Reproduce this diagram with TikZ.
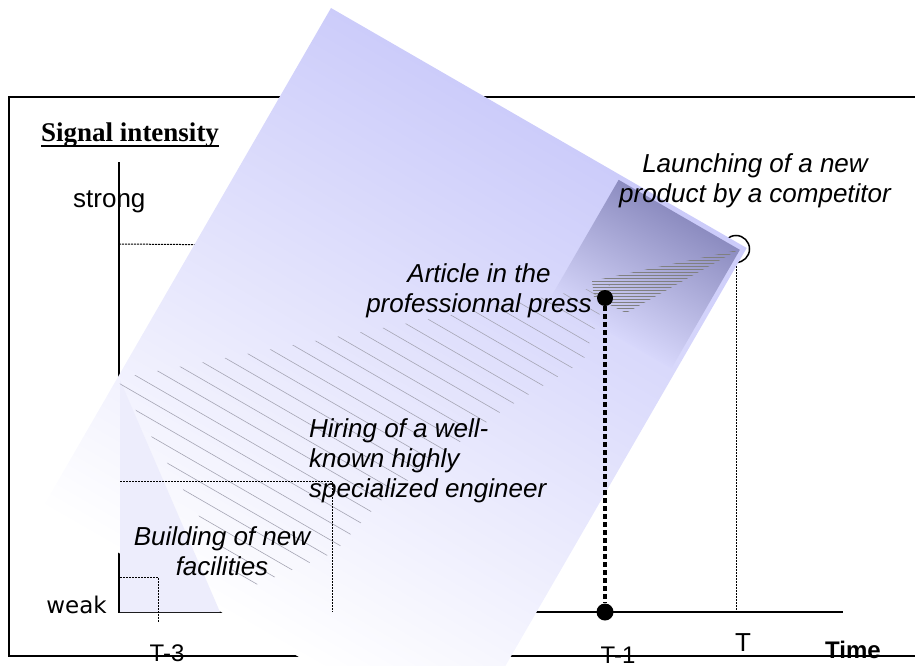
\documentclass[tikz,border=0pt]{standalone}
\usepackage{fontspec}
\setmainfont{Liberation Sans}
\newfontfamily\serifbf{Liberation Serif}
\newfontfamily\widesans{DejaVu Sans}
\usetikzlibrary{patterns}

\definecolor{lav}{RGB}{204,204,250}
\definecolor{lavstrip}{RGB}{237,237,252}
\definecolor{fold}{RGB}{140,140,192}
\definecolor{hatch}{RGB}{165,165,180}

\tikzset{
  axis/.style={line width=1.5pt},
  lvl/.style={line width=1pt, dash pattern=on 2pt off 1pt},
  lbl/.style={font=\fontsize{26}{30}\selectfont\itshape, inner sep=0pt},
  tlbl/.style={font=\fontsize{24}{28}\selectfont, inner sep=0pt, anchor=base},
  dot/.style={circle, fill=black, inner sep=0pt, minimum size=16pt},
}

\begin{document}
\begin{tikzpicture}[x=1pt, y=-1pt]
\useasboundingbox (0,0) rectangle (915,666);
\clip (0,0) rectangle (915,666);

% frame and axes
\draw[axis] (920,97) -- (9,97) -- (9,656) -- (920,656);
\draw[axis] (119,162) -- (119,612) -- (843,612);

% strong level and launching point
\coordinate (ystrong) at (119,244);
\node[circle, draw, fill=white, line width=1.5pt, minimum size=27pt, inner sep=0pt] (launch) at (736,249) {};
\coordinate (tT) at (736,612);
\draw[lvl] (ystrong) -- (launch);
\draw[lvl] (launch) -- (tT);

% the sheet lying over the chart
\begin{scope}[transform canvas={shift={(331,8)}, rotate=-30}]
  \shade[top color=lav, middle color=lav!40!white, bottom color=white] (0,0) rectangle (480,578);
  \shade[top color=fold, bottom color=lav!78!white] (335,5) rectangle (475,142);
\end{scope}
\fill[lavstrip] (120,380) -- (120,612) -- (220,612) -- cycle;
\begin{scope}[transform canvas={shift={(331,8)}, rotate=-30}]
  \clip (0,428) -- (380,100) -- (395,180) -- (350,262) -- (290,400) -- (275,470) -- (215,548) -- cycle;
  \foreach \y in {101,116,...,560}
    \draw[hatch, line width=0.6pt] (0,\y) -- (480,\y);
\end{scope}
\fill[pattern=horizontal lines, pattern color=gray] (738,250) -- (592,281) -- (594,297) -- (626,313) -- cycle;

% hiring and building levels
\coordinate (yhire) at (120,481);
\coordinate (hire) at (332,481);
\coordinate (t2) at (332,612);
\draw[lvl] (yhire) -- (hire) -- (t2);
\coordinate (ybuild) at (120,577);
\coordinate (build) at (158,577);
\coordinate (t3) at (158,622);
\draw[lvl] (ybuild) -- (build) -- (t3);

% article in the press
\node[dot] (art) at (605,298) {};
\node[dot, minimum size=17pt] (tm1) at (605,612) {};
\draw[line width=4.5pt, dash pattern=on 5pt off 3pt] (art) -- (tm1);

% axis texts
\node[font=\serifbf\bfseries\fontsize{27}{30}\selectfont, anchor=base west, inner sep=0pt] (sig) at (41,142) {Signal intensity};
\draw[line width=2pt] ([yshift=-4pt]sig.base west) -- ([yshift=-4pt]sig.base east);
\node[font=\fontsize{26}{30}\selectfont, anchor=base west, inner sep=0pt] (strong) at (73,207) {strong};
\node[font=\widesans\fontsize{23}{28}\selectfont, anchor=base east, inner sep=0pt] (weak) at (107,613) {weak};
\node[tlbl] (lt3) at (167,661) {T-3};
\node[tlbl] (lt1) at (618,663) {T-1};
\node[font=\fontsize{26}{30}\selectfont, anchor=base, inner sep=0pt] (lt) at (743,651) {T};
\node[font=\bfseries\fontsize{24}{28}\selectfont, anchor=base west, inner sep=0pt] (time) at (825,658) {Time};

% signal labels
\node[lbl, align=center, anchor=north] (launchtxt) at (755,153) {Launching of a new\\product by a competitor};
\node[lbl, align=center, anchor=north] (arttxt) at (479,263) {Article in the\\professionnal press};
\node[lbl, align=left, anchor=north west] (hiretxt) at (309,418) {Hiring of a well-\\known highly\\specialized engineer};
\node[lbl, align=center, anchor=north] (buildtxt) at (222,526) {Building of new\\facilities};
\end{tikzpicture}
\end{document}
